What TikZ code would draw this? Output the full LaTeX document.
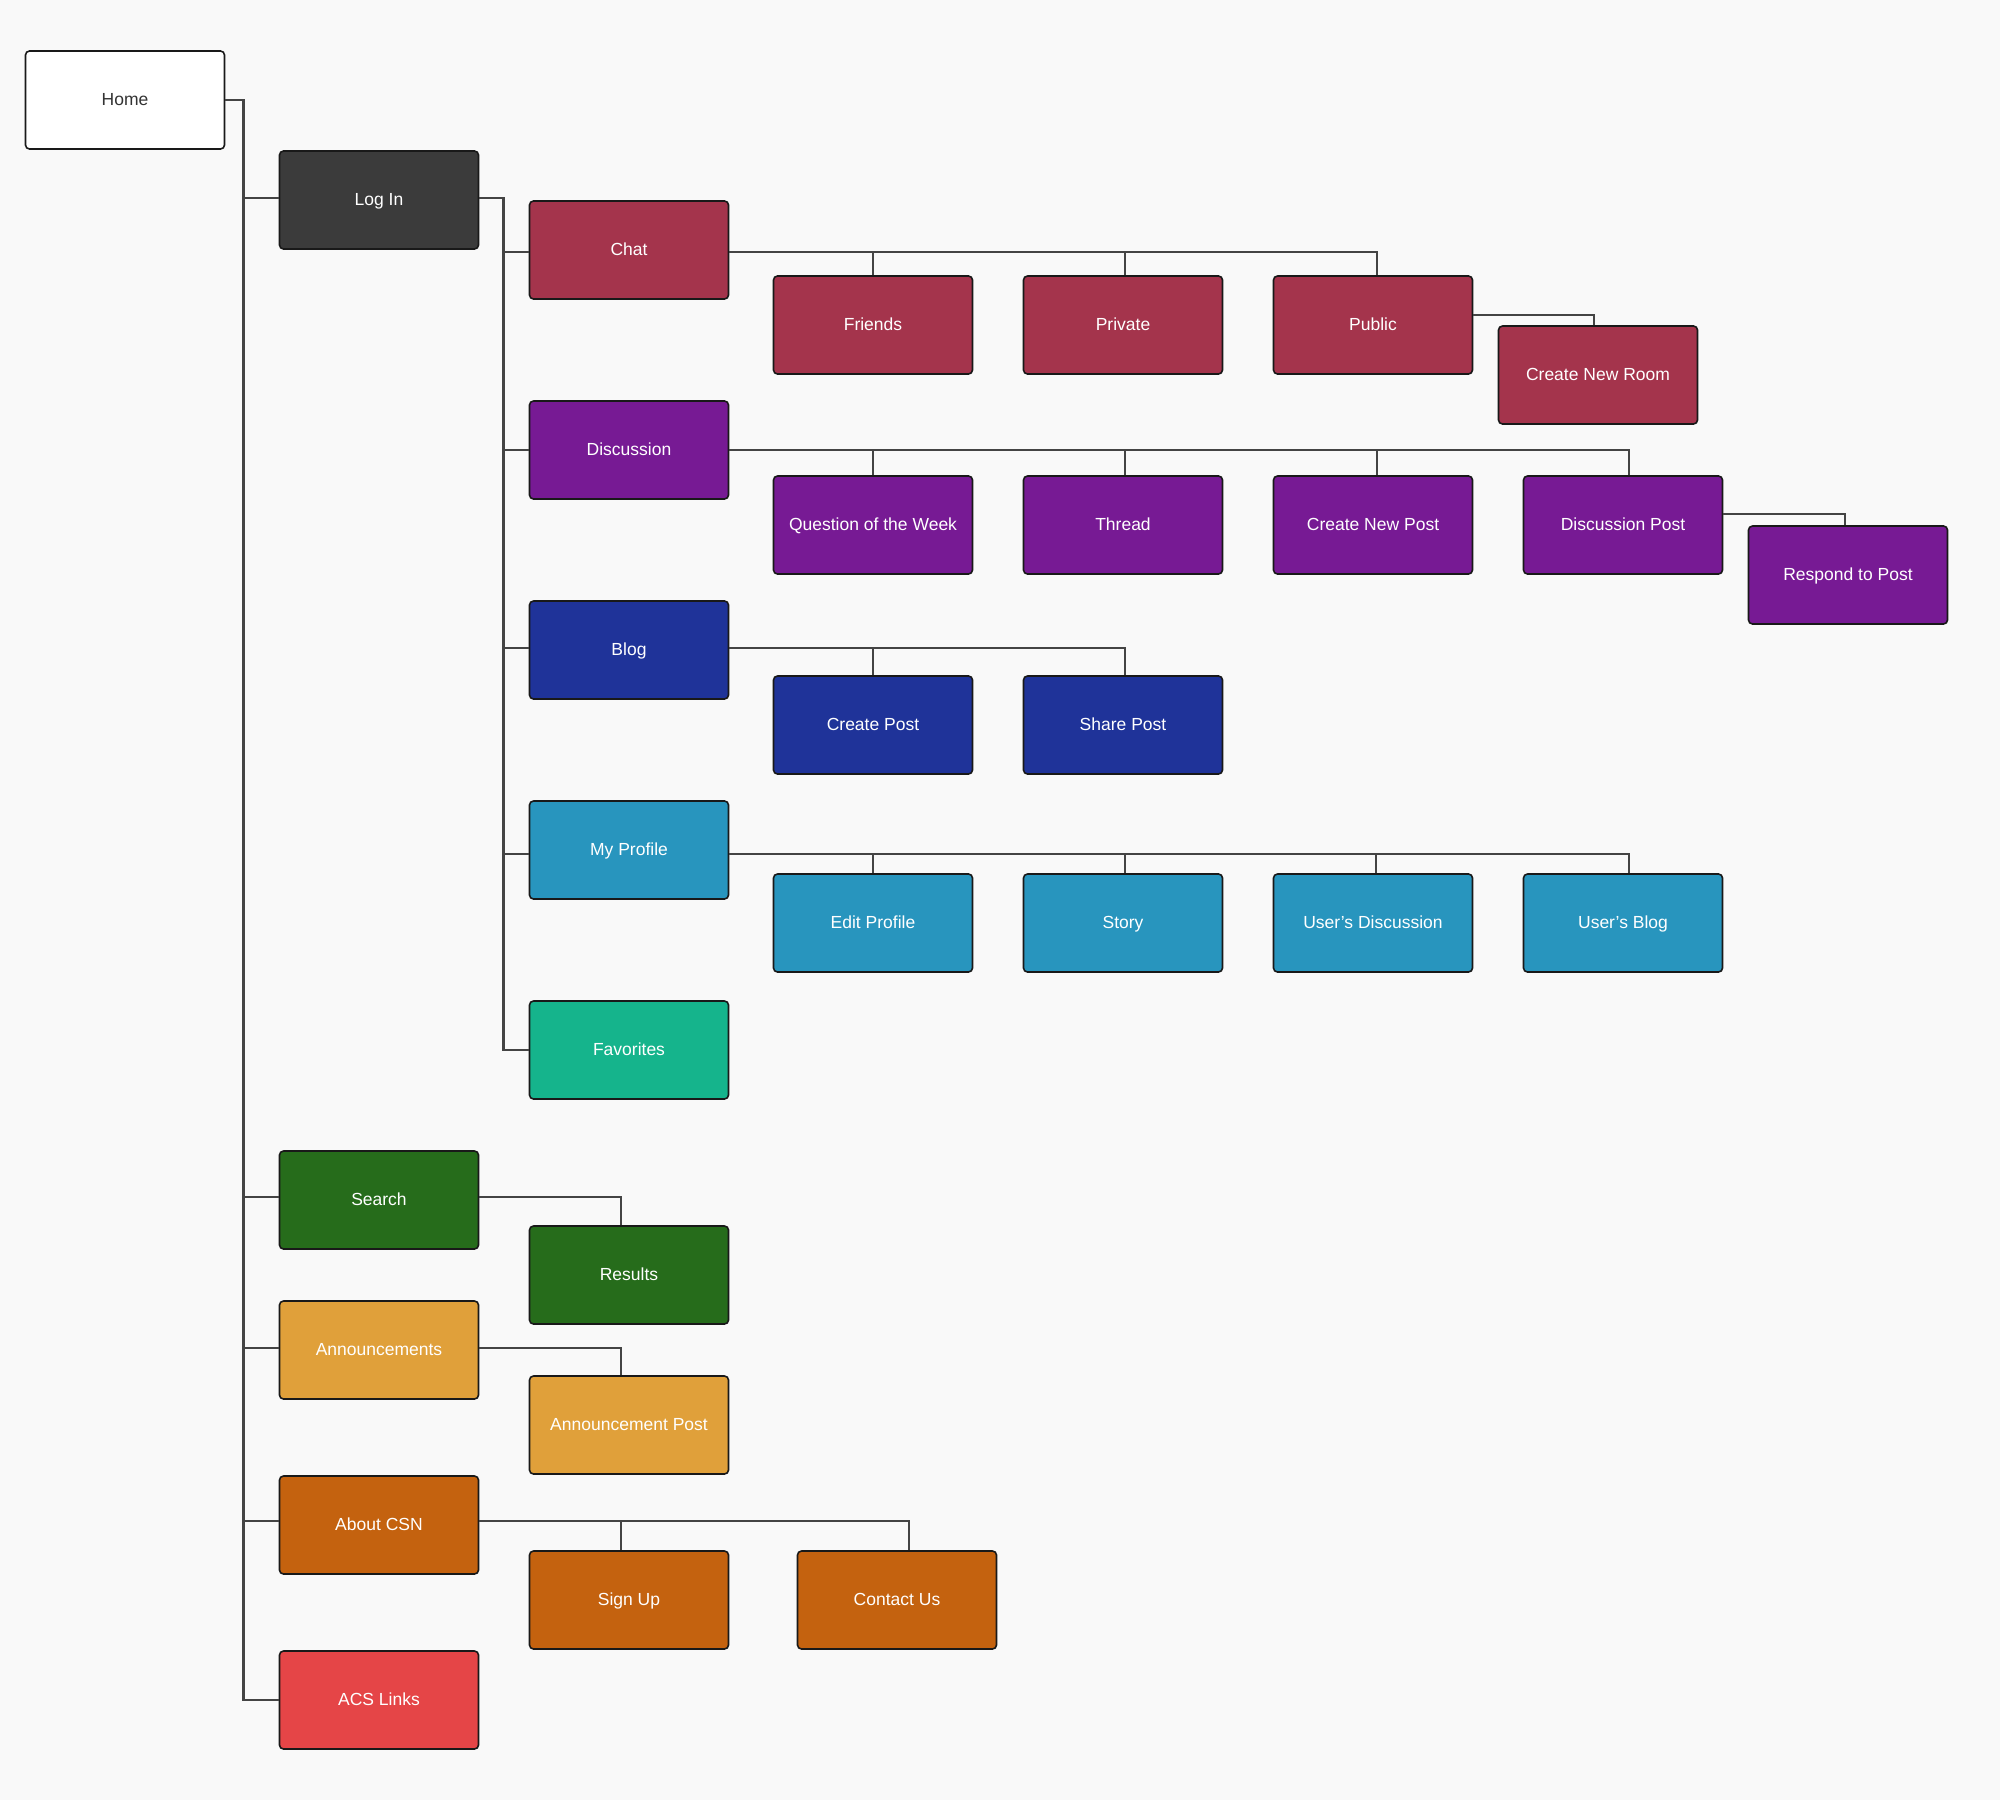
\documentclass[tikz,border=0pt]{standalone}
\usepackage{fontspec}
\setmainfont{Liberation Sans}
\usepackage{tikz}
\usetikzlibrary{calc}
\definecolor{pagebg}{HTML}{F9F9F9}
\definecolor{linkgray}{HTML}{444444}
\definecolor{loginc}{HTML}{3B3B3B}
\definecolor{chatc}{HTML}{A4344C}
\definecolor{discc}{HTML}{771A94}
\definecolor{blogc}{HTML}{1F3399}
\definecolor{profc}{HTML}{2895BE}
\definecolor{favc}{HTML}{15B48C}
\definecolor{searchc}{HTML}{266C1B}
\definecolor{annc}{HTML}{E0A03A}
\definecolor{aboutc}{HTML}{C4620F}
\definecolor{acsc}{HTML}{E54547}

\begin{document}
\begin{tikzpicture}[
x=1pt,y=-1pt,
Pages/.style={draw=black!90,line width=1.6pt,rounded corners=4pt,minimum width=199pt,minimum height=98pt,inner sep=0pt,text height=14pt,text depth=4pt,text=white,font=\fontsize{17.5}{20}\selectfont},
Links/.style={draw=linkgray,line width=2.4pt}
]
\fill[pagebg] (0,0) rectangle (2000,1800);

% Top level
\node[Pages,fill=white,text=black!80] (home) at (125,100) {Home};
\node[Pages,fill=loginc] (login) at (379,200) {Log In};
\node[Pages,fill=searchc] (search) at (379,1200) {Search};
\node[Pages,fill=annc] (announce) at (379,1350) {Announcements};
\node[Pages,fill=aboutc] (about) at (379,1525) {About CSN};
\node[Pages,fill=acsc] (acs) at (379,1700) {ACS Links};

% Pages behind the log in
\node[Pages,fill=chatc] (chat) at (629,250) {Chat};
\node[Pages,fill=chatc] (friends) at (873,325) {Friends};
\node[Pages,fill=chatc] (private) at (1123,325) {Private};
\node[Pages,fill=chatc] (public) at (1373,325) {Public};
\node[Pages,fill=chatc] (newroom) at (1598,375) {Create New Room};

\node[Pages,fill=discc] (discussion) at (629,450) {Discussion};
\node[Pages,fill=discc] (qotw) at (873,525) {Question of the Week};
\node[Pages,fill=discc] (thread) at (1123,525) {Thread};
\node[Pages,fill=discc] (newpost) at (1373,525) {Create New Post};
\node[Pages,fill=discc] (discpost) at (1623,525) {Discussion Post};
\node[Pages,fill=discc] (respond) at (1848,575) {Respond to Post};

\node[Pages,fill=blogc] (blog) at (629,650) {Blog};
\node[Pages,fill=blogc] (createpost) at (873,725) {Create Post};
\node[Pages,fill=blogc] (sharepost) at (1123,725) {Share Post};

\node[Pages,fill=profc] (profile) at (629,850) {My Profile};
\node[Pages,fill=profc] (editprofile) at (873,923) {Edit Profile};
\node[Pages,fill=profc] (story) at (1123,923) {Story};
\node[Pages,fill=profc] (userdisc) at (1373,923) {User’s Discussion};
\node[Pages,fill=profc] (userblog) at (1623,923) {User’s Blog};

\node[Pages,fill=favc] (favorites) at (629,1050) {Favorites};

% Other sections
\node[Pages,fill=searchc] (results) at (629,1275) {Results};
\node[Pages,fill=annc] (announcepost) at (629,1425) {Announcement Post};
\node[Pages,fill=aboutc] (signup) at (629,1600) {Sign Up};
\node[Pages,fill=aboutc] (contact) at (897,1600) {Contact Us};

% Trunks
\coordinate (trunk) at (243.5,0);
\coordinate (subtrunk) at (503.5,0);

\draw[Links] (home.east) -| (trunk |- acs.west) -- (acs.west);
\draw[Links] ([yshift=2pt]login.west) -- ([yshift=2pt]login.west -| trunk);
\draw[Links] ([yshift=3pt]search.west) -- ([yshift=3pt]search.west -| trunk);
\draw[Links] ([yshift=2pt]announce.west) -- ([yshift=2pt]announce.west -| trunk);
\draw[Links] ([yshift=4pt]about.west) -- ([yshift=4pt]about.west -| trunk);

\draw[Links] ([yshift=2pt]login.east) -| (subtrunk |- favorites.west) -- (favorites.west);
\foreach \p/\dy in {chat/-2,discussion/0,blog/2,profile/-4}
  \draw[Links] ([yshift=\dy pt]\p.west) -- ([yshift=\dy pt]\p.west -| subtrunk);

% Child pages
\foreach \c/\dx in {friends/0,private/2,public/4}
  \draw[Links] ([yshift=-2pt]chat.east) -| ([xshift=\dx pt]\c.north);
\draw[Links] ([yshift=10pt]public.east) -| ([xshift=-4pt]newroom.north);

\foreach \c/\dx in {qotw/0,thread/2,newpost/4,discpost/6}
  \draw[Links] (discussion.east) -| ([xshift=\dx pt]\c.north);
\draw[Links] ([yshift=11pt]discpost.east) -| ([xshift=-3pt]respond.north);

\foreach \c/\dx in {createpost/0,sharepost/2}
  \draw[Links] ([yshift=2pt]blog.east) -| ([xshift=\dx pt]\c.north);

\foreach \c/\dx in {editprofile/0,story/2,userdisc/3,userblog/6}
  \draw[Links] ([yshift=-4pt]profile.east) -| ([xshift=\dx pt]\c.north);

\draw[Links] ([yshift=3pt]search.east) -| ([xshift=-8pt]results.north);
\draw[Links] ([yshift=2pt]announce.east) -| ([xshift=-8pt]announcepost.north);
\draw[Links] ([yshift=4pt]about.east) -| ([xshift=-8pt]signup.north);
\draw[Links] ([yshift=4pt]about.east) -| ([xshift=12pt]contact.north);

\end{tikzpicture}
\end{document}
